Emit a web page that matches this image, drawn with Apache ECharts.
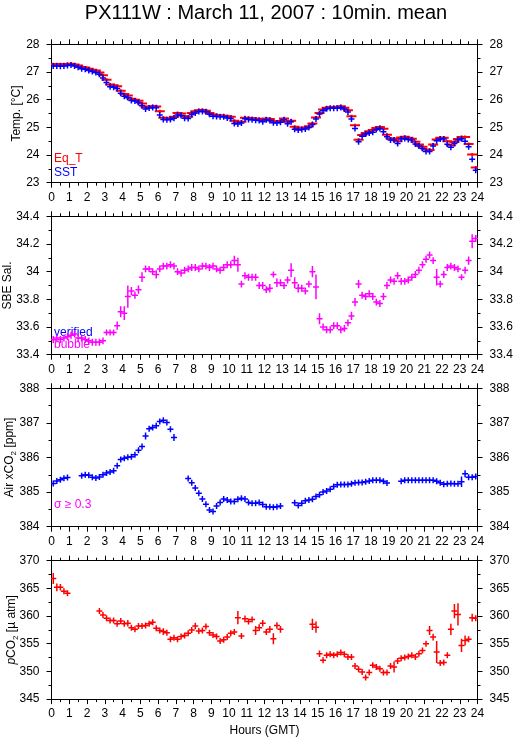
<!DOCTYPE html>
<html>
<head>
<meta charset="utf-8">
<script src="https://cdn.jsdelivr.net/npm/echarts@6/dist/echarts.min.js"></script>
<style>
html,body{margin:0;padding:0;background:#fff;}
#chart{width:515px;height:739px;}
</style>
</head>
<body>
<div id="chart"></div>
<script>
// Sample times (hours GMT), 5 per hour
const hours = [
0.1,0.3,0.5,0.7,0.9, 1.1,1.3,1.5,1.7,1.9, 2.1,2.3,2.5,2.7,2.9, 3.1,3.3,3.5,3.7,3.9,
4.1,4.3,4.5,4.7,4.9, 5.1,5.3,5.5,5.7,5.9, 6.1,6.3,6.5,6.7,6.9, 7.1,7.3,7.5,7.7,7.9,
8.1,8.3,8.5,8.7,8.9, 9.1,9.3,9.5,9.7,9.9, 10.1,10.3,10.5,10.7,10.9, 11.1,11.3,11.5,11.7,11.9,
12.1,12.3,12.5,12.7,12.9, 13.1,13.3,13.5,13.7,13.9, 14.1,14.3,14.5,14.7,14.9, 15.1,15.3,15.5,15.7,15.9,
16.1,16.3,16.5,16.7,16.9, 17.1,17.3,17.5,17.7,17.9, 18.1,18.3,18.5,18.7,18.9, 19.1,19.3,19.5,19.7,19.9,
20.1,20.3,20.5,20.7,20.9, 21.1,21.3,21.5,21.7,21.9, 22.1,22.3,22.5,22.7,22.9, 23.1,23.3,23.5,23.7,23.9
];
const xTicks = [0,1,2,3,4,5,6,7,8,9,10,11,12,13,14,15,16,17,18,19,20,21,22,23,24];

// Panel 1: temperatures
const eqT = [
27.28,27.28,27.28,27.28,27.28, 27.30,27.27,27.23,27.18,27.16, 27.12,27.08,27.05,26.98,26.88, 26.72,26.55,26.52,26.48,26.32,
26.20,26.15,26.03,26.00,25.96, 25.86,25.73,25.75,25.76,25.75, 25.58,25.35,25.32,25.33,25.38, 25.52,25.50,25.40,25.38,25.52,
25.58,25.62,25.63,25.60,25.52, 25.46,25.44,25.43,25.42,25.40, 25.38,25.24,25.18,25.20,25.35, 25.34,25.33,25.31,25.30,25.26,
25.32,25.30,25.22,25.21,25.23, 25.32,25.20,25.24,25.02,24.97, 24.97,24.99,25.04,25.14,25.36, 25.52,25.64,25.71,25.73,25.73,
25.73,25.76,25.71,25.62,25.40, 25.08,24.55,24.72,24.80,24.86, 24.90,24.98,25.01,24.95,24.73, 24.60,24.59,24.50,24.63,24.66,
24.62,24.59,24.48,24.38,24.30, 24.20,24.18,24.38,24.56,24.62, 24.62,24.50,24.35,24.47,24.58, 24.65,24.65,24.40,24.02,23.55
];
const sst = [
27.22,27.22,27.21,27.22,27.23, 27.25,27.22,27.17,27.12,27.10, 27.05,27.02,26.98,26.92,26.78, 26.62,26.47,26.45,26.40,26.23,
26.12,26.08,25.97,25.95,25.90, 25.78,25.66,25.70,25.72,25.71, 25.45,25.28,25.27,25.28,25.33, 25.45,25.43,25.33,25.32,25.46,
25.52,25.57,25.57,25.56,25.47, 25.40,25.39,25.38,25.38,25.34, 25.32,25.14,25.12,25.16,25.31, 25.28,25.27,25.26,25.25,25.20,
25.27,25.25,25.17,25.16,25.18, 25.27,25.13,25.20,24.93,24.90, 24.92,24.94,24.99,25.10,25.30, 25.48,25.60,25.67,25.69,25.69,
25.69,25.72,25.66,25.55,25.30, 24.96,24.48,24.68,24.76,24.80, 24.82,24.92,24.96,24.84,24.66, 24.54,24.54,24.42,24.58,24.60,
24.56,24.54,24.40,24.33,24.24, 24.13,24.13,24.33,24.52,24.58, 24.58,24.39,24.28,24.42,24.54, 24.59,24.50,24.30,23.85,23.45
];

// Panel 2: SBE salinity and its spread
const sal = [
33.51,33.52,33.51,33.52,33.53, 33.54,33.55,33.52,33.52,33.51, 33.50,33.49,33.49,33.49,33.50, 33.56,33.56,33.56,33.61,33.71,
33.70,33.82,33.86,33.83,33.87, 33.96,34.02,34.02,34.00,33.98, 34.02,34.04,34.04,34.05,34.04, 34.00,33.99,34.01,34.02,34.03,
34.03,34.02,34.04,34.04,34.03, 34.04,34.02,34.01,34.03,34.05, 34.05,34.08,34.05,33.91,33.97, 33.96,33.96,33.96,33.90,33.90,
33.87,33.88,33.98,33.92,33.92, 33.90,33.94,34.01,33.92,33.88, 33.88,33.86,33.91,34.00,33.89, 33.66,33.60,33.58,33.58,33.61,
33.61,33.58,33.59,33.63,33.68, 33.78,33.91,33.83,33.82,33.84, 33.82,33.78,33.77,33.82,33.90, 33.94,33.93,33.97,33.93,33.93,
33.94,33.96,33.98,34.01,34.05, 34.09,34.12,34.08,33.96,33.91, 33.98,34.03,34.04,34.03,34.02, 33.96,34.01,34.08,34.22,34.24
];
const salErr = [
0.025,0.025,0.025,0.025,0.025, 0.025,0.025,0.025,0.025,0.025, 0.025,0.025,0.025,0.025,0.025, 0.02,0.02,0.02,0.03,0.04,
0.05,0.08,0.03,0.025,0.03, 0.035,0.025,0.02,0.025,0.03, 0.025,0.025,0.025,0.025,0.025, 0.025,0.025,0.025,0.025,0.025,
0.025,0.025,0.025,0.025,0.025, 0.025,0.025,0.025,0.025,0.025, 0.025,0.035,0.05,0.025,0.025, 0.025,0.025,0.025,0.025,0.025,
0.025,0.03,0.02,0.03,0.025, 0.025,0.025,0.05,0.04,0.03, 0.025,0.025,0.025,0.04,0.09, 0.04,0.025,0.025,0.025,0.025,
0.025,0.025,0.025,0.025,0.03, 0.03,0.03,0.025,0.025,0.025, 0.025,0.025,0.025,0.025,0.025, 0.025,0.025,0.025,0.025,0.025,
0.025,0.025,0.025,0.025,0.025, 0.025,0.025,0.025,0.06,0.025, 0.025,0.025,0.025,0.025,0.025, 0.02,0.025,0.03,0.05,0.025
];

// Panel 3: atmospheric xCO2
const xco2 = [
385.25,385.32,385.36,385.40,385.42, null,null,null,385.47,385.50, 385.49,385.43,385.41,385.44,385.50, 385.55,385.58,385.62,385.76,385.94,
385.98,386.01,386.02,386.08,386.21, 386.32,386.62,386.83,386.87,386.92, 387.04,387.08,387.01,386.82,386.58, null,null,null,385.39,385.27,
385.12,384.97,384.80,384.65,384.48, 384.44,384.60,384.70,384.80,384.77, 384.73,384.73,384.79,384.82,384.80, 384.70,384.68,384.68,384.70,384.64,
384.58,384.58,384.56,384.58,384.60, null,null,null,384.69,384.61, 384.68,384.75,384.77,384.79,384.87, 384.92,385.00,385.03,385.08,385.16,
385.21,385.22,385.22,385.22,385.24, 385.27,385.28,385.28,385.30,385.32, 385.34,385.34,385.34,385.31,385.26, null,null,null,385.31,385.34,
385.34,385.34,385.34,385.34,385.34, 385.34,385.34,385.34,385.31,385.27, 385.23,385.24,385.25,385.24,385.24, 385.30,385.53,385.43,385.43,385.45
];
const xco2Err = [
0.03,0.03,0.03,0.03,0.03, 0,0,0,0.03,0.03, 0.03,0.03,0.03,0.03,0.03, 0.03,0.03,0.03,0.08,0.05,
0.03,0.03,0.03,0.04,0.05, 0.05,0.1,0.05,0.03,0.03, 0.04,0.03,0.03,0.06,0.1, 0,0,0,0.05,0.05,
0.05,0.04,0.04,0.04,0.08, 0.04,0.05,0.04,0.03,0.03, 0.03,0.03,0.03,0.03,0.03, 0.03,0.03,0.03,0.03,0.03,
0.03,0.03,0.03,0.03,0.03, 0,0,0,0.05,0.04, 0.03,0.03,0.03,0.03,0.03, 0.03,0.03,0.03,0.03,0.03,
0.03,0.03,0.03,0.03,0.03, 0.03,0.03,0.03,0.03,0.03, 0.03,0.03,0.03,0.03,0.03, 0,0,0,0.03,0.03,
0.03,0.03,0.03,0.03,0.03, 0.03,0.03,0.03,0.03,0.03, 0.03,0.03,0.03,0.03,0.03, 0.15,0.1,0.04,0.03,0.03
];

// Panel 4: pCO2 and its spread
const pco2 = [
366.8,365.2,365.2,364.5,364.1, null,null,null,null,null, null,null,null,360.9,360.2, 359.6,359.2,359.2,358.6,359.1,
358.6,358.7,357.9,357.6,358.2, 358.2,358.3,358.6,358.9,357.8, 357.4,357.2,357.0,355.8,356.1, 355.8,356.3,356.5,356.9,357.5,
358.2,357.3,357.4,358.1,357.0, 356.6,356.3,355.5,355.7,356.2, 356.9,357.1,359.7,356.4,359.5, 359.0,359.4,357.4,357.9,358.7,
357.1,357.6,355.9,358.3,357.6, null,null,null,null,null, null,null,null,358.5,358.0, 353.2,352.0,352.9,353.1,352.9,
353.1,353.4,353.1,352.6,352.6, 351.0,350.4,349.9,348.9,349.8, 351.1,350.8,350.5,349.8,349.8, 351.0,350.8,351.9,352.4,352.5,
352.7,352.9,352.6,353.2,353.8, 355.0,357.4,356.2,353.5,351.5, 351.6,352.9,357.6,360.9,360.3, 354.7,355.6,355.8,359.7,359.6
];
const pco2Err = [
1.0,0.7,0.6,0.4,0.4, 0,0,0,0,0, 0,0,0,0.5,0.4, 0.4,0.4,0.4,0.4,0.4,
0.5,0.6,0.4,0.4,0.4, 0.5,0.5,0.5,0.4,0.4, 0.4,0.6,0.4,0.4,0.5, 0.4,0.4,0.4,0.4,0.4,
0.6,0.4,0.4,0.5,0.4, 0.5,0.4,0.5,0.4,0.4, 0.4,0.4,1.2,0.5,0.6, 0.5,0.5,0.8,0.6,0.6,
0.4,0.6,1.0,0.6,0.6, 0,0,0,0,0, 0,0,0,1.0,1.0, 0.6,0.3,0.3,0.3,0.3,
0.3,0.3,0.3,0.3,0.3, 0.4,0.4,0.4,0.4,0.5, 0.5,0.3,0.3,0.4,0.4, 0.4,1.0,0.4,0.3,0.3,
0.3,0.3,0.3,0.4,0.4, 0.5,0.8,0.6,2.0,0.4, 0.4,0.4,1.0,1.3,2.0, 1.2,0.9,0.5,0.7,0.4
];

const FONT = '"Liberation Sans", Arial, Helvetica, sans-serif';
const RED = '#ff0000', BLUE = '#0000ff', MAG = '#ff00ff';

function pts(vals, errs) {
  const out = [];
  for (let i = 0; i < hours.length; i++) {
    if (vals[i] != null) out.push([hours[i], vals[i], errs ? errs[i] : 0]);
  }
  return out;
}
function cross(color, halfW, minHalfH, lw) {
  return function (params, api) {
    const x = api.value(0), y = api.value(1), e = api.value(2);
    const c = api.coord([x, y]);
    const t = api.coord([x, y + e]);
    const b = api.coord([x, y - e]);
    const y1 = Math.min(t[1], c[1] - minHalfH);
    const y2 = Math.max(b[1], c[1] + minHalfH);
    return {
      type: 'group',
      children: [
        {type: 'line', shape: {x1: c[0] - halfW, y1: c[1], x2: c[0] + halfW, y2: c[1]}, style: {stroke: color, lineWidth: lw}},
        {type: 'line', shape: {x1: c[0], y1: y1, x2: c[0], y2: y2}, style: {stroke: color, lineWidth: lw}}
      ]
    };
  };
}

const GL = 51.5, GR = 37.5, GH = 138.4;
const tops = [44.3, 216.3, 388.3, 560.7];

const axLine = {show: true, onZero: false, lineStyle: {color: '#000', width: 1}};
function xAx(g, pos) {
  const a = {
    type: 'value', gridIndex: g, position: pos, min: 0, max: 24, interval: 1,
    axisLine: axLine,
    axisTick: {show: true, length: 5, lineStyle: {color: '#000'}},
    minorTick: {show: true, splitNumber: 2, length: 3, lineStyle: {color: '#000'}},
    splitLine: {show: false}, minorSplitLine: {show: false},
    axisLabel: {show: pos === 'bottom', color: '#000', fontSize: 12, fontFamily: FONT, margin: 9,
      formatter: function (v) { return xTicks.indexOf(v) >= 0 ? String(v) : ''; }}
  };
  if (g === 3 && pos === 'bottom') {
    a.name = 'Hours (GMT)'; a.nameLocation = 'middle'; a.nameGap = 26; a.nameMoveOverlap = false;
    a.nameTextStyle = {color: '#000', fontSize: 12, fontFamily: FONT};
  }
  return a;
}
function yAx(g, pos, min, max, interval, name, gap) {
  const a = {
    type: 'value', gridIndex: g, position: pos, min: min, max: max, interval: interval,
    axisLine: axLine,
    axisTick: {show: true, length: 5, lineStyle: {color: '#000'}},
    minorTick: {show: true, splitNumber: 2, length: 3, lineStyle: {color: '#000'}},
    splitLine: {show: false}, minorSplitLine: {show: false},
    axisLabel: {color: '#000', fontSize: 12, fontFamily: FONT, margin: 12}
  };
  if (pos === 'left') {
    a.name = name; a.nameLocation = 'middle'; a.nameGap = gap; a.nameRotate = 90; a.nameMoveOverlap = false;
    a.nameTextStyle = {color: '#000', fontSize: 12, fontFamily: FONT,
      rich: {
        sub: {fontSize: 8, fontFamily: FONT, color: '#000', verticalAlign: 'bottom', lineHeight: 16},
        it: {fontSize: 12, fontFamily: FONT, color: '#000', fontStyle: 'italic'}
      }};
  }
  return a;
}

const yCfg = [
  [23, 28, 1, 'Temp. [°C]', 29],
  [33.4, 34.4, 0.2, 'SBE Sal.', 38],
  [384, 388, 1, 'Air xCO{sub|2} [ppm]', 34],
  [345, 370, 5, '{it|p}CO{sub|2} [µ atm]', 32]
];

const grids = [], xAxes = [], yAxes = [];
for (let g = 0; g < 4; g++) {
  grids.push({left: GL, right: GR, top: tops[g], height: GH, containLabel: false, outerBoundsMode: 'none'});
  xAxes.push(xAx(g, 'bottom'));
  xAxes.push(xAx(g, 'top'));
  const c = yCfg[g];
  yAxes.push(yAx(g, 'left', c[0], c[1], c[2], c[3], c[4]));
  yAxes.push(yAx(g, 'right', c[0], c[1], c[2], '', 0));
}

function cs(name, g, data, color, halfW, minH, lw) {
  return {
    type: 'custom', name: name, xAxisIndex: 2 * g, yAxisIndex: 2 * g,
    dimensions: ['x', 'y', 'e'], encode: {x: 0, y: 1},
    renderItem: cross(color, halfW, minH, lw), data: data, clip: true, silent: true
  };
}

const series = [
  cs('Eq_T', 0, pts(eqT), RED, 5, 1.5, 2),
  cs('SST', 0, pts(sst), BLUE, 3, 3, 1.5),
  cs('SBE Sal.', 1, pts(sal, salErr), MAG, 3, 3, 1.5),
  cs('Air xCO2', 2, pts(xco2, xco2Err), BLUE, 3, 3, 1.5),
  cs('pCO2', 3, pts(pco2, pco2Err), RED, 3, 3, 1.5)
];

const chart = echarts.init(document.getElementById('chart'), null, {renderer: 'canvas'});
chart.setOption({
  animation: false,
  backgroundColor: '#fff',
  grid: grids, xAxis: xAxes, yAxis: yAxes, series: series,
  graphic: [
    {type: 'text', x: 266, y: 13, style: {text: 'PX111W : March 11, 2007 : 10min. mean', fill: '#000', fontSize: 20, fontFamily: FONT, align: 'center', verticalAlign: 'middle'}},
    {type: 'text', x: 54, y: 158.5, style: {text: 'Eq_T', fill: RED, fontSize: 12, fontFamily: FONT, verticalAlign: 'middle'}},
    {type: 'text', x: 54, y: 172.5, style: {text: 'SST', fill: BLUE, fontSize: 12, fontFamily: FONT, verticalAlign: 'middle'}},
    {type: 'text', x: 54, y: 344.5, style: {text: 'bubble', fill: MAG, fontSize: 12, fontFamily: FONT, verticalAlign: 'middle'}},
    {type: 'text', x: 54, y: 332.5, style: {text: 'verified', fill: BLUE, fontSize: 12, fontFamily: FONT, verticalAlign: 'middle'}},
    {type: 'text', x: 54, y: 505, style: {text: 'σ ≥ 0.3', fill: MAG, fontSize: 12, fontFamily: FONT, verticalAlign: 'middle'}}
  ]
});
</script>
</body>
</html>
